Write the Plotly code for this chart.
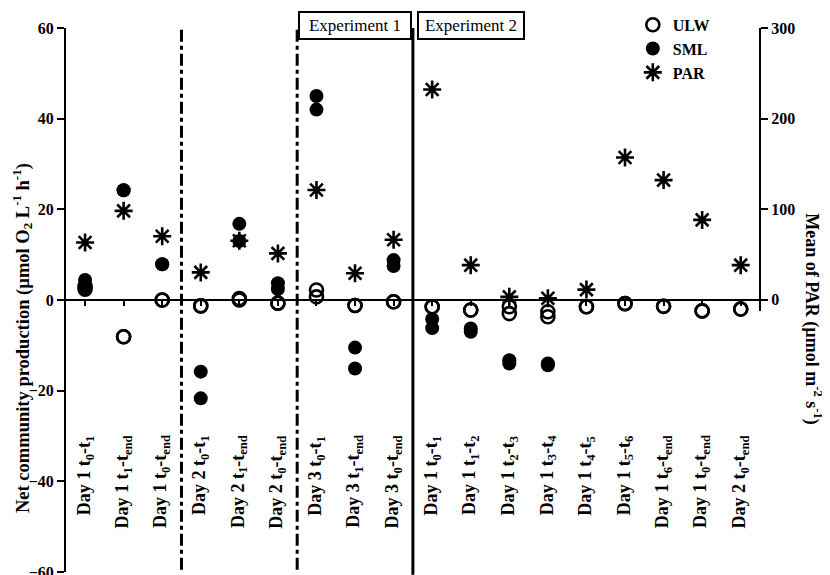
import plotly.graph_objects as go

categories = [
    "Day 1 t<sub>0</sub>-t<sub>1</sub>",
    "Day 1 t<sub>1</sub>-t<sub>end</sub>",
    "Day 1 t<sub>0</sub>-t<sub>end</sub>",
    "Day 2 t<sub>0</sub>-t<sub>1</sub>",
    "Day 2 t<sub>1</sub>-t<sub>end</sub>",
    "Day 2 t<sub>0</sub>-t<sub>end</sub>",
    "Day 3 t<sub>0</sub>-t<sub>1</sub>",
    "Day 3 t<sub>1</sub>-t<sub>end</sub>",
    "Day 3 t<sub>0</sub>-t<sub>end</sub>",
    "Day 1 t<sub>0</sub>-t<sub>1</sub>",
    "Day 1 t<sub>1</sub>-t<sub>2</sub>",
    "Day 1 t<sub>2</sub>-t<sub>3</sub>",
    "Day 1 t<sub>3</sub>-t<sub>4</sub>",
    "Day 1 t<sub>4</sub>-t<sub>5</sub>",
    "Day 1 t<sub>5</sub>-t<sub>6</sub>",
    "Day 1 t<sub>6</sub>-t<sub>end</sub>",
    "Day 1 t<sub>0</sub>-t<sub>end</sub>",
    "Day 2 t<sub>0</sub>-t<sub>end</sub>",
]
# group sizes: Exp1 day1, day2, day3 ; Exp2
group_sizes = [3, 3, 3, 9]

ulw_rep1 = [2.4, -8.1, 0.0, -1.3, 0.0, -0.7, 2.2, -1.2, -0.4, -1.5, -2.2, -1.5, -2.6, -1.5, -0.8, -1.4, -2.4, -2.0]
ulw_rep2 = [3.0, -8.1, 0.0, -1.3, 0.3, -0.7, 0.7, -1.2, -0.4, -1.5, -2.2, -3.0, -3.7, -1.5, -0.8, -1.4, -2.4, -2.0]
sml_rep1 = [4.4, 24.2, 7.9, -15.8, 16.8, 3.7, 45.0, -10.5, 8.8, -4.2, -6.3, -13.3, -14.0, None, None, None, None, None]
sml_rep2 = [2.4, 24.2, 7.9, -21.7, 13.0, 2.4, 42.0, -15.1, 7.5, -6.2, -7.0, -14.0, -14.4, None, None, None, None, None]
par = [63, 98, 70, 30, 65, 51, 121, 29, 66, 232, 38, 3, 1.5, 11, 157, 132, 88, 38]

left_ticks = [-60, -40, -20, 0, 20, 40, 60]
right_ticks = [0, 100, 200, 300]

SERIF = "Liberation Serif"
idx = list(range(len(categories)))

fig = go.Figure()
fig.add_trace(go.Scatter(
    x=idx + idx, y=ulw_rep1 + ulw_rep2, mode="markers", name="ULW",
    marker=dict(symbol="circle-open", size=13, color="black", line=dict(width=2.6, color="black")),
    xaxis="x", yaxis="y"))
fig.add_trace(go.Scatter(
    x=idx + idx, y=sml_rep1 + sml_rep2, mode="markers", name="SML",
    marker=dict(symbol="circle", size=14, color="black", line=dict(width=0)),
    xaxis="x", yaxis="y"))
fig.add_trace(go.Scatter(
    x=idx, y=par, mode="markers", name="PAR",
    marker=dict(symbol="asterisk-open", size=15, color="black", line=dict(width=2.6, color="black")),
    xaxis="x", yaxis="y2"))

# separators between groups
shapes = []
pos = 0
bounds = []
for g in group_sizes[:-1]:
    pos += g
    bounds.append(pos - 0.5)
for i, b in enumerate(bounds):
    if i < 2:
        shapes.append(dict(type="line", xref="x", yref="paper", x0=b, x1=b, y0=0.004, y1=1.003,
                           line=dict(color="black", width=3, dash="12px,4px,4px,4px")))
    else:
        shapes.append(dict(type="line", xref="x", yref="paper", x0=b, x1=b, y0=-0.005, y1=1.0,
                           line=dict(color="black", width=3)))

annotations = []
for i, c in enumerate(categories):
    annotations.append(dict(x=i, xref="x", y=0.255, yref="paper", text=c, showarrow=False,
                            textangle=-90, xanchor="center", yanchor="top",
                            font=dict(family=SERIF, size=18, color="black", weight="bold")))

# experiment boxes
annotations.append(dict(x=7, xref="x", y=1.0046, yref="paper", text="Experiment 1", showarrow=False,
                        xanchor="center", yanchor="middle", bgcolor="white", bordercolor="black",
                        borderwidth=2, borderpad=3, width=104,
                        font=dict(family=SERIF, size=17, color="black")))
annotations.append(dict(x=10, xref="x", y=1.0046, yref="paper", text="Experiment 2", showarrow=False,
                        xanchor="center", yanchor="middle", bgcolor="white", bordercolor="black",
                        borderwidth=2, borderpad=3, width=98,
                        font=dict(family=SERIF, size=17, color="black")))

# axis titles
annotations.append(dict(x=-0.062, xref="paper", y=0.43, yref="paper",
                        text="Net community production (µmol O<sub>2</sub> L<sup>-1</sup> h<sup>-1</sup>)",
                        showarrow=False, textangle=-90, xanchor="center", yanchor="middle",
                        font=dict(family=SERIF, size=18.5, color="black", weight="bold")))
annotations.append(dict(x=1.076, xref="paper", y=0.465, yref="paper",
                        text="Mean of PAR (µmol m<sup>-2</sup> s<sup>-1</sup>)",
                        showarrow=False, textangle=90, xanchor="center", yanchor="middle",
                        font=dict(family=SERIF, size=18, color="black", weight="bold")))

tickfont = dict(family=SERIF, size=16, color="black", weight="bold")

fig.update_layout(
    width=830, height=575,
    margin=dict(l=57, r=78, t=20, b=11, autoexpand=False),
    paper_bgcolor="white", plot_bgcolor="rgba(0,0,0,0)",
    showlegend=True,
    legend=dict(x=0.817, y=1.037, xanchor="left", yanchor="top", bgcolor="rgba(0,0,0,0)",
                font=dict(family=SERIF, size=16, color="black", weight="bold"),
                tracegroupgap=0, itemsizing="trace"),
    xaxis=dict(range=[-0.52, 17.5], anchor="free", position=0.5, showline=True, linecolor="black",
               linewidth=2, ticks="outside", ticklen=5, tickwidth=2, tickcolor="black",
               tickvals=idx, showticklabels=False, showgrid=False, zeroline=False),
    yaxis=dict(range=[-60, 60], tickvals=left_ticks, showline=True, linecolor="black", linewidth=2,
               ticks="outside", ticklen=7, tickwidth=2, tickcolor="black", tickfont=tickfont,
               ticklabeloverflow="allow",
               showgrid=False, zeroline=False, anchor="free", position=0, automargin=False),
    yaxis2=dict(domain=[0.48, 1], range=[-12.5, 300], tickvals=right_ticks, side="right",
                anchor="free", position=1, showline=True, linecolor="black", linewidth=2,
                ticks="outside", ticklen=7, tickwidth=2, tickcolor="black", tickfont=tickfont,
                ticklabeloverflow="allow",
                showgrid=False, zeroline=False, automargin=False),
    shapes=shapes,
    annotations=annotations,
)

fig.write_html("out.html")
